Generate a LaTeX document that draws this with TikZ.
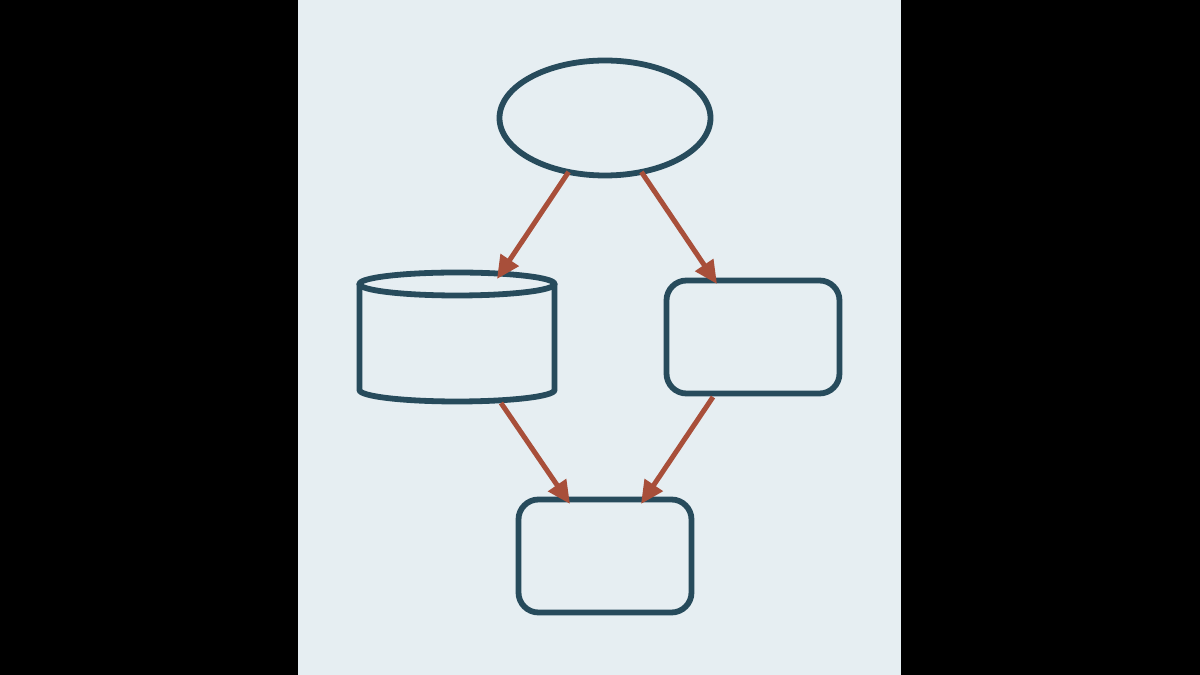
\documentclass[tikz,border=0pt]{standalone}
\usepackage{tikz}
\usetikzlibrary{calc, arrows.meta, shapes.geometric}
\definecolor{panel}{RGB}{230, 238, 242}
\definecolor{ink}{RGB}{39, 75, 92}
\definecolor{rust}{RGB}{168, 79, 58}
\tikzset{
  shapeline/.style={draw=ink, line width=0.058cm, inner sep=0, outer sep=0},
  flow/.style={rust, line width=0.05cm, -{Triangle[length=0.23cm, width=0.21cm]}}
}

\begin{document}
\begin{tikzpicture}[scale=1]
  \fill[black] (0, 0) rectangle (12, 6.75);
  \fill[panel] (2.98, 0) rectangle (9.01, 6.75);

  \node[shapeline, ellipse, minimum width=2.11cm, minimum height=1.15cm] (src) at (6.05, 5.57) {};

  \node[inner sep=0, outer sep=0, minimum width=1.95cm, minimum height=1.06cm] (db) at (4.57, 3.38) {};
  \draw[shapeline]
    (db.north west) -- (db.south west)
    arc[start angle=180, end angle=360, x radius=0.975, y radius=0.115] -- (db.north east);
  \draw[shapeline] (db.north) ellipse[x radius=0.975, y radius=0.115];

  \node[shapeline, rounded corners=0.2cm, minimum width=1.73cm, minimum height=1.13cm] (proc) at (7.53, 3.38) {};
  \node[shapeline, rounded corners=0.2cm, minimum width=1.73cm, minimum height=1.13cm] (sink) at (6.05, 1.19) {};

  \draw[flow] (src.236) -- ($(db.north) + (0.40, 0.05)$);
  \draw[flow] (src.304) -- ($(proc.north) + (-0.36, -0.035)$);
  \draw[flow] ($(db.south) + (0.44, -0.13)$) -- ($(sink.north) + (-0.35, -0.045)$);
  \draw[flow] ($(proc.south) + (-0.40, -0.035)$) -- ($(sink.north) + (0.36, -0.045)$);

\end{tikzpicture}
\end{document}
